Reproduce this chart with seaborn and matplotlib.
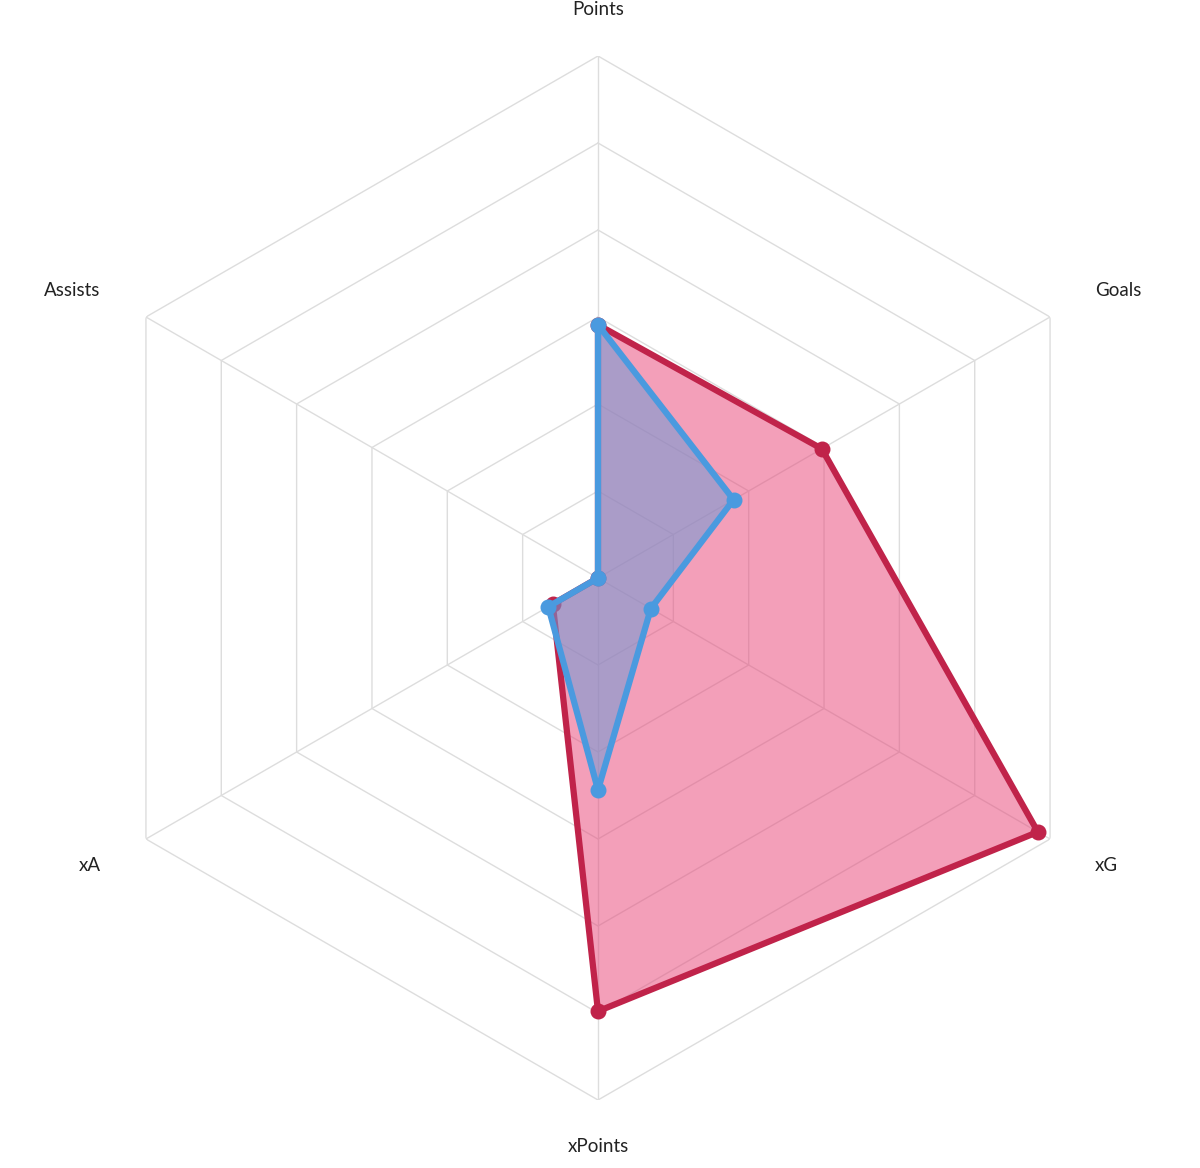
import numpy as np
import matplotlib
matplotlib.use("Agg")
import matplotlib.pyplot as plt
import seaborn as sns

categories = ["Points", "Goals", "xG", "xPoints", "xA", "Assists"]
red_values = [0.485, 0.495, 0.973, 0.83, 0.10, 0.0]
blue_values = [0.485, 0.30, 0.117, 0.406, 0.11, 0.0]
ring_levels = [1/6, 2/6, 3/6, 4/6, 5/6, 1.0]

sns.set_style("white")
plt.rcParams['font.family'] = ['Lato', 'DejaVu Sans']

fig = plt.figure(figsize=(12, 11.68), dpi=100)
cx, cy, R = 598, 578, 522
W, H = 1200, 1168
ax = fig.add_axes([(cx - R) / W, 1 - (cy + R) / H, 2 * R / W, 2 * R / H], projection='polar')
ax.set_theta_offset(np.pi / 2)
ax.set_theta_direction(-1)
ax.set_ylim(0, 1)
ax.grid(False)
ax.spines['polar'].set_visible(False)
ax.set_xticks([]); ax.set_yticks([])

n = len(categories)
angles = np.arange(n) * 2 * np.pi / n
closed = np.append(angles, angles[0])
gc = "#dddddd"
for lv in ring_levels:
    ax.plot(closed, [lv] * (n + 1), color=gc, lw=1, zorder=1)
for a in angles:
    ax.plot([a, a], [0, 1], color=gc, lw=1, zorder=1)

def draw(vals, line, fill, falpha, z):
    v = np.append(vals, vals[0])
    ax.fill(closed, v, color=fill, alpha=falpha, zorder=z, lw=0)
    ax.plot(closed, v, color=line, lw=4.5, zorder=z + 1, solid_joinstyle='round')
    ax.scatter(angles, vals, s=110, color=line, zorder=z + 2, clip_on=False)

draw(red_values, "#C0234A", "#E8487A", 0.52, 3)
draw(blue_values, "#4A9ADF", "#6F9BD6", 0.55, 6)

for a, c in zip(angles, categories):
    ha = 'center'
    r = 1.085
    if np.isclose(a, 0) or np.isclose(a, np.pi):
        r = 1.09
    elif a < np.pi:
        ha = 'left'; r = 1.1
    else:
        ha = 'right'; r = 1.1
    ax.text(a, r, c, ha=ha, va='center', fontsize=13.5, color="#222222", clip_on=False)

fig.savefig("out.png", dpi=100, facecolor="white")
